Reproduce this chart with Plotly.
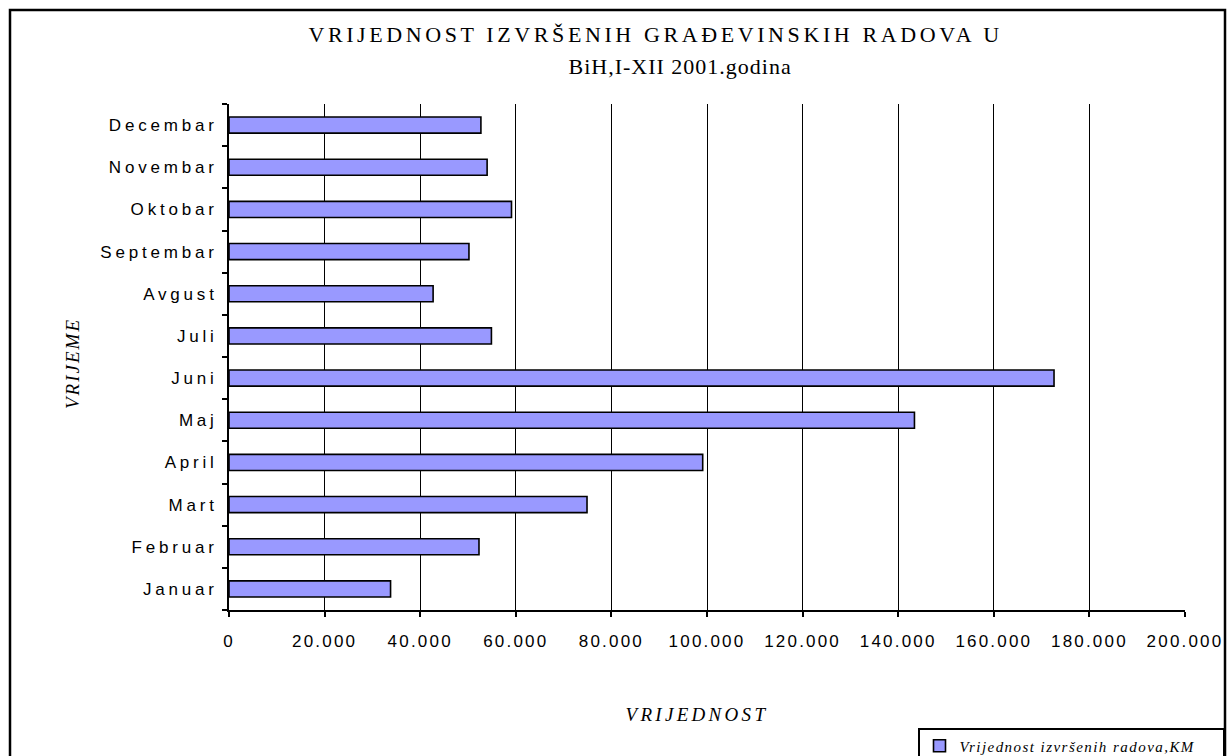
import plotly.graph_objects as go

months = ["Januar", "Februar", "Mart", "April", "Maj", "Juni",
          "Juli", "Avgust", "Septembar", "Oktobar", "Novembar", "Decembar"]
values = [33800, 52300, 74900, 99100, 143400, 172600,
          54900, 42700, 50200, 59100, 54000, 52700]
x_ticks = [0, 20000, 40000, 60000, 80000, 100000, 120000, 140000, 160000, 180000, 200000]
series_name = "Vrijednost izvršenih radova,KM"
title_1 = "VRIJEDNOST IZVRŠENIH GRAĐEVINSKIH RADOVA U"
title_2 = "BiH,I-XII 2001.godina"
x_title = "VRIJEDNOST"
y_title = "VRIJEME"

W, H = 1228, 756
L, R, T, B = 229, 1185, 104, 610   # plot area in window pixels

def px(x):
    return (x - L) / (R - L)

def py(y):
    return (B - y) / (B - T)

serif = "Liberation Serif, Times New Roman, serif"
sans = "Liberation Sans, Arial, sans-serif"

fig = go.Figure()
fig.add_trace(go.Bar(
    y=months, x=values, orientation="h", name=series_name,
    marker=dict(color="#9999FF", line=dict(color="black", width=1.6)),
    showlegend=True,
))

fig.update_layout(
    width=W, height=H,
    margin=dict(l=L, r=W - R, t=T, b=H - B, autoexpand=False),
    paper_bgcolor="white", plot_bgcolor="white",
    separators=",.",
    bargap=0.62,
    font=dict(family=sans, size=17, color="black"),
    showlegend=True,
    legend=dict(
        orientation="h",
        x=px(918), y=py(728), xanchor="left", yanchor="top",
        bgcolor="white", bordercolor="black", borderwidth=1.5,
        font=dict(family=serif, size=15, style="italic"),
        itemwidth=30, entrywidth=258, entrywidthmode="pixels",
    ),
    xaxis=dict(
        range=[0, 200000], tickvals=x_ticks, tickformat=",d",
        showgrid=True, gridcolor="black", gridwidth=1,
        zeroline=False, showline=True, linecolor="black", linewidth=1.5,
        ticks="outside", ticklen=5, tickcolor="black", tickwidth=1.5,
        tickfont=dict(size=17), ticklabelstandoff=10,
    ),
    yaxis=dict(
        type="category", categoryorder="array", categoryarray=months,
        showline=True, linecolor="black", linewidth=1.8,
        ticks="outside", ticklen=5, tickcolor="black", tickwidth=1.5,
        tickson="boundaries",
        showgrid=False, tickfont=dict(size=17), ticklabelstandoff=6,
    ),
)

def note(text, x, y, size, italic=False, angle=0):
    fig.add_annotation(text=text, x=px(x), y=py(y), xref="paper", yref="paper",
                       xanchor="center", yanchor="middle", textangle=angle,
                       showarrow=False,
                       font=dict(family=serif, size=size, style="italic" if italic else "normal"))

note(title_1, 655, 35, 22)
note(title_2, 680, 67, 22)
note(x_title, 697, 714, 19, italic=True)
note(y_title, 73, 364, 19, italic=True, angle=-90)

fig.add_shape(type="rect", xref="paper", yref="paper",
              x0=px(10), x1=px(1225), y0=py(800), y1=py(10),
              line=dict(color="black", width=2.5), fillcolor="rgba(0,0,0,0)", layer="below")

post = """
document.body.style.margin = '0';
document.body.style.overflow = 'hidden';
document.documentElement.style.overflow = 'hidden';
var gd = document.getElementById('{plot_id}');
function applyLS(){
  gd.querySelectorAll('.ytick text').forEach(function(t){t.style.letterSpacing='3.8px';});
  gd.querySelectorAll('.xtick text').forEach(function(t){t.style.letterSpacing='2.2px';});
  var sp = ['3.6px','1px','3.3px','2px'];
  gd.querySelectorAll('.annotation').forEach(function(a){
    var i = +a.getAttribute('data-index');
    a.querySelectorAll('text').forEach(function(t){t.style.letterSpacing=sp[i] || '0px';});
  });
  gd.querySelectorAll('.legendtext').forEach(function(t){t.style.letterSpacing='1.45px';});
}
applyLS();
if (gd.on) { gd.on('plotly_afterplot', applyLS); }
setTimeout(applyLS, 50); setTimeout(applyLS, 300); setTimeout(applyLS, 1000);
"""

fig.write_html("out.html", post_script=post, config={"displayModeBar": False})
